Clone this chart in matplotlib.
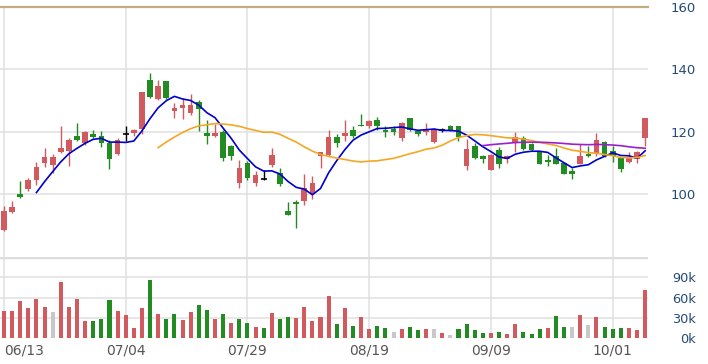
import matplotlib
matplotlib.use("Agg")
import matplotlib.pyplot as plt
import pandas as pd

# Daily OHLC (80 sessions).
opens = [88.7, 94.4, 100.0, 101.7, 104.5, 110.1, 109.5, 113.5, 113.8, 118.6,
         116.5, 119.4, 118.6, 116.5, 113.0, 119.5, 119.6, 121.0, 136.5, 130.5,
         136.4, 126.6, 127.8, 126.0, 129.5, 119.6, 118.6, 119.9, 115.6, 103.7,
         110.1, 103.7, 105.0, 109.5, 106.9, 94.6, 97.6, 97.8, 100.0, 112.2,
         112.7, 118.4, 118.6, 120.5, 122.3, 121.8, 123.9, 120.5, 120.9, 118.0,
         124.4, 120.2, 119.9, 116.7, 120.7, 122.0, 122.0, 109.2, 115.6, 112.4,
         107.9, 114.1, 111.3, 116.5, 118.0, 116.2, 113.8, 110.9, 112.2, 110.1,
         107.6, 109.8, 112.9, 113.3, 116.7, 113.8, 111.7, 110.3, 111.3, 118.0]
highs = [96.2, 97.8, 104.4, 105.3, 110.3, 114.9, 113.0, 122.0, 118.0, 122.8,
         120.2, 120.7, 120.2, 117.3, 118.0, 121.8, 120.9, 132.7, 138.8, 136.7,
         136.4, 129.2, 130.8, 132.1, 130.1, 123.9, 122.6, 120.5, 115.8, 110.9,
         110.6, 107.4, 107.7, 114.9, 108.5, 97.5, 98.3, 106.6, 106.0, 113.7,
         120.5, 119.4, 123.9, 122.0, 125.8, 123.8, 124.7, 121.8, 122.0, 123.2,
         124.5, 120.7, 122.8, 121.4, 121.4, 122.2, 122.0, 117.7, 116.5, 112.5,
         113.0, 115.2, 112.6, 119.9, 118.6, 116.5, 114.0, 112.7, 114.9, 110.3,
         108.5, 116.2, 115.6, 119.6, 117.0, 115.6, 111.9, 113.5, 113.9, 124.6]
lows = [88.2, 94.1, 98.9, 101.0, 103.1, 108.8, 106.9, 113.3, 109.0, 117.0,
        115.7, 118.0, 115.2, 108.1, 112.7, 117.2, 118.8, 119.2, 130.8, 130.1,
        130.5, 124.4, 124.1, 125.5, 120.2, 116.2, 118.5, 110.6, 110.9, 102.1,
        104.5, 102.8, 104.7, 108.8, 102.6, 93.3, 89.3, 96.7, 98.6, 108.5,
        112.2, 115.2, 117.0, 118.0, 121.8, 121.2, 120.5, 118.4, 119.1, 117.0,
        120.2, 118.6, 119.1, 116.5, 119.9, 120.3, 117.0, 107.7, 111.4, 110.1,
        107.9, 108.5, 110.1, 113.5, 114.3, 114.0, 109.8, 109.2, 109.6, 106.6,
        104.9, 109.6, 112.0, 112.4, 112.0, 110.3, 107.1, 110.1, 110.1, 115.4]
closes = [94.6, 95.9, 99.3, 104.5, 108.8, 112.0, 112.0, 114.9, 117.5, 117.5,
          120.0, 118.4, 116.5, 111.4, 117.5, 119.5, 120.7, 132.7, 131.1, 134.8,
          130.8, 127.6, 128.5, 128.7, 127.3, 118.8, 119.6, 111.8, 112.3, 108.5,
          105.3, 106.3, 105.0, 112.7, 103.5, 93.3, 97.0, 102.1, 103.7, 113.5,
          118.4, 116.5, 119.6, 118.8, 121.8, 123.6, 121.8, 119.9, 119.9, 122.8,
          120.7, 119.4, 120.9, 120.9, 120.7, 120.5, 118.4, 114.5, 111.7, 111.3,
          112.7, 109.8, 112.2, 118.4, 114.5, 114.3, 109.8, 110.3, 109.8, 106.6,
          106.6, 112.4, 112.2, 117.5, 112.4, 112.2, 108.1, 111.7, 113.5, 124.4]

# Volume in thousands, and its colour code (r = up, g = down, n = flat).
volumes_k = [40.4, 40.4, 55.2, 45.3, 58.1, 46.8, 39.4, 82.8, 46.8, 58.1,
             25.6, 25.6, 28.6, 56.6, 40.4, 34.5, 15.8, 45.3, 86.2, 36.0,
             28.6, 36.0, 27.1, 38.4, 49.3, 41.9, 28.6, 36.0, 23.2, 28.6,
             23.2, 17.2, 15.8, 37.9, 28.6, 32.0, 30.5, 46.8, 25.6, 32.0,
             62.6, 21.2, 45.3, 18.7, 31.5, 13.3, 18.7, 14.8, 9.9, 13.3,
             16.7, 11.8, 13.3, 13.3, 7.9, 4.4, 13.3, 20.7, 11.8, 7.9,
             7.9, 9.9, 5.9, 20.7, 9.9, 6.4, 13.3, 15.3, 33.5, 17.2,
             17.2, 34.5, 19.7, 32.0, 17.2, 13.8, 15.8, 15.8, 12.3, 71.4]
vol_dir = list("rrrrrrnrrr" "rgggrrrrgr" "ggrrggrgrg" "grgrggrrrr"
               "rgrgrrggnr" "ggrnrngggg" "rgrrgggrgg" "nrnrgggrrr")

date_idx = [0, 15, 30, 45, 60, 75]
date_labels = ["06/13", "07/04", "07/29", "08/19", "09/09", "10/01"]

RED = "#d05a5e"
GREEN = "#228b22"
GREY = "#c8c8c8"
GRID = "#e0e0e0"
LABEL = "#234a7a"

n = len(closes)
x = list(range(n))
ma = pd.Series(closes)

fig = plt.figure(figsize=(7.08, 3.64), dpi=100)
ax = fig.add_axes([0.0, 0.294, 648 / 708, 0.9808 - 0.294])
axv = fig.add_axes([0.0, 0.0706, 648 / 708, 0.294 - 0.0706], sharex=ax)

# Candles.
for i in x:
    o, h, l, c = opens[i], highs[i], lows[i], closes[i]
    if c > o:
        col = RED
    elif c < o:
        col = GREEN
    else:
        col = "black"
    ax.vlines(i, l, h, color=col, linewidth=1.0, zorder=3)
    if c == o:
        ax.hlines(o, i - 0.35, i + 0.35, color=col, linewidth=1.2, zorder=3)
    else:
        ax.bar(i, max(abs(c - o), 0.35), bottom=min(o, c), width=0.7,
               color=col, linewidth=0, zorder=4)

# Moving averages.
ax.plot(x, ma.rolling(5).mean(), color="#0000cc", linewidth=1.2, zorder=5)
ax.plot(x, ma.rolling(20).mean(), color="#f5a623", linewidth=1.2, zorder=5)
ax.plot(x, ma.rolling(60).mean(), color="#9b1fd1", linewidth=1.2, zorder=5)

# Volume bars.
vcolors = {"r": RED, "g": GREEN, "n": GREY}
axv.bar(x, volumes_k, width=0.5, color=[vcolors[d] for d in vol_dir],
        linewidth=0, zorder=3)

# Axes styling.
ax.set_xlim(-0.49, 79.35)
ax.set_ylim(80, 160)
axv.set_ylim(0, 120)

for a in (ax, axv):
    for s in a.spines.values():
        s.set_visible(False)
    a.set_xticks(date_idx)
    a.grid(axis="both", color=GRID, linewidth=1.1)
    a.set_axisbelow(True)
    a.tick_params(length=0)

ax.set_yticks([100, 120, 140, 160])
ax.tick_params(labelbottom=False, labelleft=False, labelright=True,
               pad=34.5, labelsize=9.5, labelcolor=LABEL)
plt.setp(ax.get_yticklabels(), ha="right")
ax.axhline(160, color="#c2ab7e", linewidth=1.6, zorder=6, clip_on=False)

axv.set_yticks([0, 30, 60, 90])
axv.set_yticklabels([f"{v}k" for v in [0, 30, 60, 90]])
axv.tick_params(axis="y", labelleft=False, labelright=True, pad=34.5,
                labelsize=9.3, labelcolor=LABEL)
plt.setp(axv.get_yticklabels(), ha="right")
axv.axhline(120, color="#dddddd", linewidth=2.5, zorder=2)
axv.axhline(0, color="white", linewidth=1.2, zorder=2)

axv.set_xticklabels(date_labels)
axv.tick_params(axis="x", pad=4, labelsize=10, labelcolor="#555555")
plt.setp(axv.get_xticklabels()[0], ha="left")

fig.savefig("out.png", dpi=100, facecolor="white")
plt.close(fig)
